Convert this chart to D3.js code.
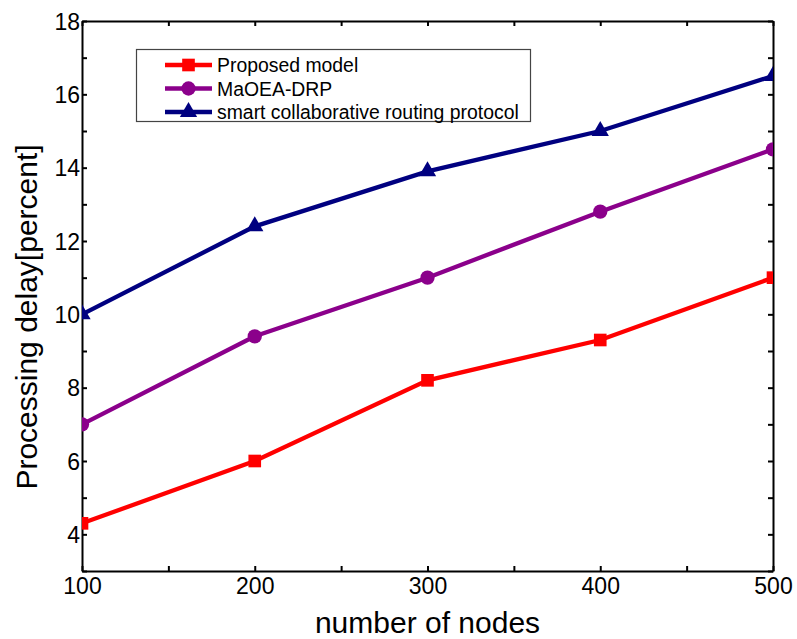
<!DOCTYPE html>
<html>
  <head>
    <meta charset="utf-8">
    <title>Processing delay vs number of nodes</title>
    <script src="https://d3js.org/d3.v7.min.js"></script>
    <style>
      body {
        margin: 0;
        font-family: "Liberation Sans", Arial, sans-serif;
        background: #fff;
      }
      .axis text {
        font-size: 23px;
        fill: #000;
      }
      .axis path, .axis line {
        stroke: #000;
        stroke-width: 2px;
      }
      .title {
        font-size: 30px;
        fill: #000;
      }
      .legend text {
        font-size: 19.4px;
        fill: #000;
      }
    </style>
  </head>
  <body>
    <div id="chart"></div>
    <script>
      // data
      const nodes = [100, 200, 300, 400, 500];
      const proposed = [4.3, 6.0, 8.2, 9.3, 11.0];
      const maoea = [7.0, 9.4, 11.0, 12.8, 14.5];
      const smart = [10.0, 12.4, 13.9, 15.0, 16.5];
      const seriesNames = ["Proposed model", "MaOEA-DRP", "smart collaborative routing protocol"];
      const seriesColors = ["#ff0000", "#8b008b", "#000080"];
      const seriesMarkers = [d3.symbolSquare, d3.symbolCircle, d3.symbolTriangle];
      const xTicks = [100, 150, 200, 250, 300, 350, 400, 450, 500];
      const yTicks = d3.range(3, 19);

      const series = [proposed, maoea, smart].map((vals, i) => ({
        name: seriesNames[i],
        color: seriesColors[i],
        marker: seriesMarkers[i],
        points: vals.map((v, j) => ({ x: nodes[j], y: v }))
      }));

      const width = 797, height = 639;
      const margin = { left: 82, right: 24, top: 21, bottom: 68 };
      const plotW = width - margin.left - margin.right;
      const plotH = height - margin.top - margin.bottom;

      const svg = d3.select("#chart").append("svg")
        .attr("width", width)
        .attr("height", height);

      const x = d3.scaleLinear().domain([100, 500]).range([0, plotW]);
      const y = d3.scaleLinear().domain([3, 18]).range([plotH, 0]);

      const g = svg.append("g")
        .attr("transform", `translate(${margin.left},${margin.top})`);

      svg.append("defs").append("clipPath").attr("id", "plotClip")
        .append("rect").attr("width", plotW).attr("height", plotH);

      // axes with inward ticks, mirrored on top and right
      const xFmt = d => d % 100 === 0 ? d : "";
      const yFmt = d => d % 2 === 0 ? d : "";

      g.append("g").attr("class", "axis")
        .attr("transform", `translate(0,${plotH})`)
        .call(d3.axisBottom(x).tickValues(xTicks).tickFormat(xFmt).tickSizeInner(-5).tickSizeOuter(0).tickPadding(8));
      g.append("g").attr("class", "axis")
        .call(d3.axisTop(x).tickValues(xTicks).tickFormat("").tickSizeInner(-5).tickSizeOuter(0));
      g.append("g").attr("class", "axis")
        .call(d3.axisLeft(y).tickValues(yTicks).tickFormat(yFmt).tickSizeInner(-5).tickSizeOuter(0).tickPadding(2));
      g.append("g").attr("class", "axis")
        .attr("transform", `translate(${plotW},0)`)
        .call(d3.axisRight(y).tickValues(yTicks).tickFormat("").tickSizeInner(-5).tickSizeOuter(0));

      g.selectAll(".axis text").attr("dy", null);
      g.selectAll(".axis").filter((d, i) => i === 0).selectAll("text").attr("y", 6).attr("dy", "0.72em");
      g.selectAll(".axis").filter((d, i) => i === 2).selectAll("text").attr("dy", "0.36em");

      // lines and markers
      const line = d3.line().x(d => x(d.x)).y(d => y(d.y));
      const plot = g.append("g").attr("clip-path", "url(#plotClip)");

      series.forEach(s => {
        plot.append("path")
          .datum(s.points)
          .attr("fill", "none")
          .attr("stroke", s.color)
          .attr("stroke-width", 4.3)
          .attr("d", line);
        plot.selectAll(null)
          .data(s.points)
          .enter().append("path")
          .attr("transform", d => `translate(${x(d.x)},${y(d.y)})`)
          .attr("d", d3.symbol().type(s.marker).size(s.marker === d3.symbolTriangle ? 130 : 160))
          .attr("fill", s.color);
      });

      // axis titles
      svg.append("text").attr("class", "title")
        .attr("x", margin.left + plotW / 2)
        .attr("y", 633)
        .attr("text-anchor", "middle")
        .text("number of nodes");
      svg.append("text").attr("class", "title")
        .attr("transform", "translate(37,317) rotate(-90)")
        .attr("text-anchor", "middle")
        .text("Processing delay[percent]");

      // legend
      const legend = svg.append("g").attr("class", "legend");
      legend.append("rect")
        .attr("x", 136.5).attr("y", 49.5)
        .attr("width", 394).attr("height", 72)
        .attr("fill", "#fff")
        .attr("stroke", "#444")
        .attr("stroke-width", 1.2);
      const rows = legend.selectAll("g.row")
        .data(series)
        .enter().append("g")
        .attr("class", "row")
        .attr("transform", (d, i) => `translate(0,${65 + i * 23.5})`);
      rows.append("line")
        .attr("x1", 165).attr("x2", 212)
        .attr("stroke", d => d.color)
        .attr("stroke-width", 4.3);
      rows.append("path")
        .attr("transform", "translate(188.5,0)")
        .attr("d", d => d3.symbol().type(d.marker).size(d.marker === d3.symbolTriangle ? 130 : 160)())
        .attr("fill", d => d.color);
      rows.append("text")
        .attr("x", 217).attr("y", 7)
        .text(d => d.name);
    </script>
  </body>
</html>
